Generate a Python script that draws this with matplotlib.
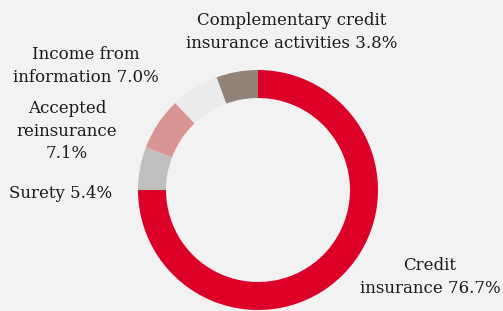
import matplotlib.pyplot as plt

# Slice shares as drawn in the ring (clockwise from 12 o'clock)
categories = ['Credit insurance', 'Surety', 'Accepted reinsurance',
              'Income from information', 'Complementary credit insurance activities']
shares = [75.0, 5.8, 7.1, 6.5, 5.6]
colors = ['#dc0028', '#bfbfbf', '#d99594', '#ebebeb', '#938379']

# Label texts as printed on the chart
label_texts = ['Credit\ninsurance 76.7%', 'Surety 5.4%', 'Accepted\nreinsurance\n7.1%',
               'Income from\ninformation 7.0%', 'Complementary credit\ninsurance activities 3.8%']
label_pos = [(430, 277), (61, 194), (67, 131), (86, 66), (292, 32)]

W, H = 503, 311
fig = plt.figure(figsize=(W / 100, H / 100), dpi=100)
fig.patch.set_facecolor('#f2f2f2')
ax = fig.add_axes([0, 0, 1, 1])
ax.set_facecolor('#f2f2f2')

ax.pie(shares, colors=colors, startangle=90, counterclock=False,
       center=(258, H - 190), radius=120,
       wedgeprops=dict(width=28, linewidth=0))

for txt, (px, py) in zip(label_texts, label_pos):
    ax.text(px, H - py, txt, ha='center', va='center', fontsize=12,
            family='DejaVu Serif', color='#1a1a1a', linespacing=1.42)

ax.set_xlim(0, W)
ax.set_ylim(0, H)
ax.set_aspect('equal')
ax.axis('off')

fig.savefig('out.png', dpi=100, facecolor=fig.get_facecolor())
